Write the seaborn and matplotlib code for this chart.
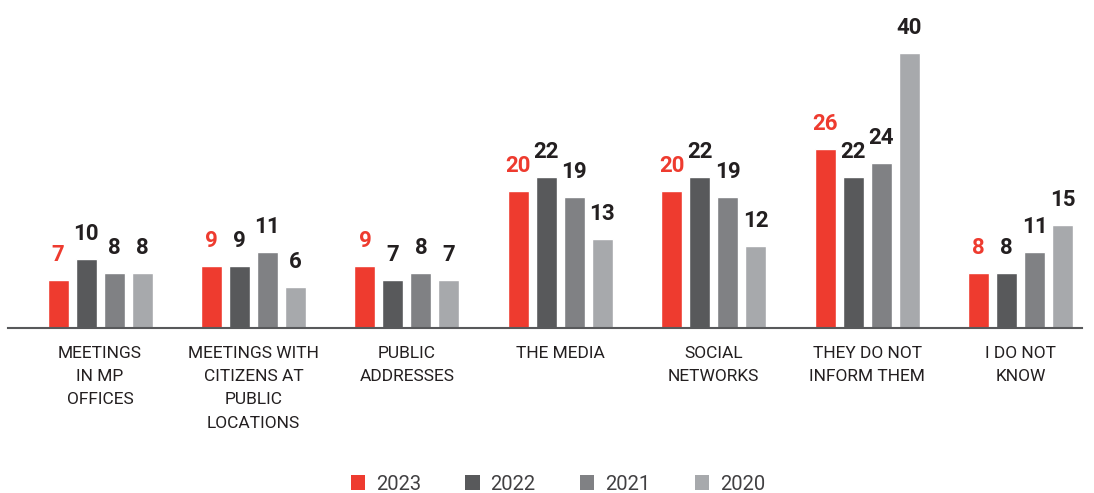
import matplotlib
matplotlib.use('Agg')
import matplotlib.pyplot as plt
import seaborn as sns
import pandas as pd
from matplotlib.patches import Patch

# chart data
categories = ['MEETINGS\nIN MP\nOFFICES', 'MEETINGS WITH\nCITIZENS AT\nPUBLIC\nLOCATIONS',
              'PUBLIC\nADDRESSES', 'THE MEDIA', 'SOCIAL\nNETWORKS',
              'THEY DO NOT\nINFORM THEM', 'I DO NOT\nKNOW']
years = ['2023', '2022', '2021', '2020']
v2023 = [7, 9, 9, 20, 20, 26, 8]
v2022 = [10, 9, 7, 22, 22, 22, 8]
v2021 = [8, 11, 8, 19, 19, 24, 11]
v2020 = [8, 6, 7, 13, 12, 40, 15]
colors = ['#EE3B2F', '#58595B', '#808184', '#A7A9AC']

rows = []
for yr, vals in zip(years, [v2023, v2022, v2021, v2020]):
    for c, v in zip(categories, vals):
        rows.append({'category': c, 'year': yr, 'value': v})
df = pd.DataFrame(rows)

sns.set_style('white')
plt.rcParams['font.family'] = ['Roboto', 'DejaVu Sans']

fig = plt.figure(figsize=(10.94, 4.93), dpi=100)
ax = fig.add_axes([8/1094, 165/493, 1074/1094, 302.5/493])

sns.barplot(data=df, x='category', y='value', hue='year', hue_order=years,
            palette=colors, width=0.73, gap=0.25, ax=ax, legend=False,
            saturation=1, errorbar=None)

ax.set_xlim(-0.6, 6.4)
ax.set_ylim(0, 44)

# value labels above bars
for cont, col in zip(ax.containers, ['#EE3B2F', '#231F20', '#231F20', '#231F20']):
    ax.bar_label(cont, labels=[f'{int(b.get_height())}' for b in cont], padding=10,
                 fontsize=16, color=col, fontweight='bold', clip_on=False)

for s in ['top', 'right', 'left']:
    ax.spines[s].set_visible(False)
ax.spines['bottom'].set_color('#58595B')
ax.spines['bottom'].set_linewidth(1.5)
ax.set_yticks([])
ax.set_xlabel('')
ax.set_ylabel('')
ax.tick_params(axis='x', length=0, pad=13)
ax.set_xticks(range(len(categories)))
ax.set_xticklabels(categories, fontsize=12.5, color='#231F20', linespacing=1.68, va='top')

handles = [Patch(facecolor=c, edgecolor='none') for c in colors]
fig.legend(handles, years, loc='center', bbox_to_anchor=(558/1094, 1 - 484/493), ncol=4,
           frameon=False, fontsize=14.5, handlelength=0.7, handleheight=0.7,
           columnspacing=2.2, handletextpad=0.55, labelcolor='#414042')

fig.savefig('out.png', dpi=100)
